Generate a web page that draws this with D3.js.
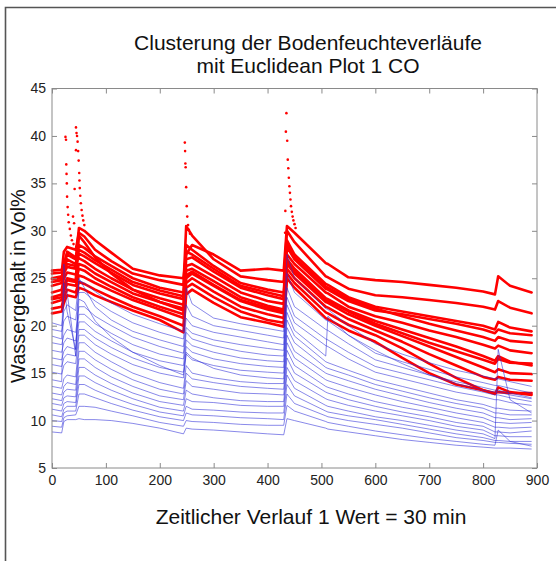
<!DOCTYPE html>
<html><head><meta charset="utf-8">
<script src="https://cdn.jsdelivr.net/npm/d3@7"></script>
<style>
body{margin:0;background:#fff}
svg{display:block}
text{font-family:"Liberation Sans",Arial,Helvetica,sans-serif}
</style>
</head><body>
<svg id="chart" width="556" height="561"></svg>
<script>
// ---- data ----
const titleLines = ["Clusterung der Bodenfeuchteverläufe", "mit Euclidean Plot 1 CO"];
const xLabel = "Zeitlicher Verlauf 1 Wert = 30 min";
const yLabel = "Wassergehalt in Vol%";
const xTicks = [0,100,200,300,400,500,600,700,800,900];
const yTicks = [5,10,15,20,25,30,35,40,45];

// sample times (1 value = 30 min)
const times = [0,18,22,28,44,50,60,80,110,150,200,244,249,260,300,350,400,430,436,450,508,512,550,600,650,700,750,800,822,828,850,890];

// red cluster (wet profiles)
const redValues = [
 [25.8,25.9,26.5,27.5,27.0,30.3,30.0,29.0,27.7,26.0,25.3,25.0,27.5,28.5,27.5,25.8,26.0,25.8,30.5,29.8,26.6,26.5,25.1,24.8,24.6,24.3,24.0,23.6,23.3,25.2,24.2,23.5],
 [25.5,25.6,27.8,28.3,28.0,29.8,29.4,28.0,26.8,25.5,24.8,24.3,30.5,29.5,27.0,25.2,24.8,24.6,30.0,28.8,25.2,25.1,23.9,23.2,23.0,22.7,22.4,22.0,21.7,22.6,21.9,21.3],
 [25.0,25.2,26.0,27.0,26.5,28.5,28.2,27.3,26.3,25.0,24.0,23.5,28.5,28.0,26.3,24.5,23.8,23.5,29.0,27.5,24.4,24.3,23.0,22.0,21.5,21.0,20.5,20.0,19.6,20.4,19.8,19.4],
 [24.6,24.8,25.5,26.2,26.0,27.6,27.3,26.6,25.6,24.3,23.4,22.8,27.0,27.2,25.7,24.0,23.2,22.8,28.3,27.0,23.9,23.8,22.6,21.6,21.2,20.7,20.2,19.6,19.2,19.6,19.2,19.0],
 [24.2,24.5,26.3,27.8,27.2,27.1,26.8,26.0,25.0,23.8,22.9,22.2,26.3,26.5,25.2,23.5,22.6,22.3,27.5,26.5,23.5,23.4,22.0,21.0,20.3,19.5,18.8,18.0,17.6,17.9,17.4,17.1],
 [23.5,23.8,25.0,25.6,25.4,26.5,26.3,25.5,24.6,23.4,22.5,21.8,25.8,26.0,24.7,23.0,22.1,21.7,27.0,26.0,22.9,22.8,21.6,20.5,19.6,18.7,17.8,16.8,16.3,16.8,16.2,15.8],
 [23.0,23.3,24.2,25.0,24.8,29.5,28.8,27.2,25.5,23.8,22.5,21.6,25.0,25.5,24.2,22.6,21.7,21.3,26.5,25.5,22.5,22.4,21.2,20.0,18.9,17.8,16.7,15.6,15.1,15.4,15.0,14.9],
 [22.4,22.7,23.6,24.4,24.2,25.3,25.1,24.5,23.7,22.7,21.7,20.8,24.5,25.0,23.6,22.0,21.2,20.8,26.0,25.0,22.0,21.9,20.7,19.5,18.3,17.0,15.8,14.6,14.3,14.6,14.3,14.2],
 [21.8,22.0,23.0,23.8,23.5,24.6,24.4,23.8,23.0,22.0,21.0,20.0,24.0,24.4,23.0,21.5,20.6,20.3,25.5,24.5,21.4,21.3,20.1,19.0,17.6,16.0,14.5,13.2,12.9,13.0,12.9,12.9],
 [21.3,21.5,22.4,23.2,23.0,24.0,23.8,23.2,22.5,21.6,20.6,19.3,23.3,23.8,22.4,20.9,20.3,19.9,25.0,24.0,20.8,20.7,19.5,18.3,16.6,15.0,13.8,13.2,12.8,13.5,13.0,12.7],
 [24.9,25.0,25.8,26.5,26.3,28.0,27.7,26.9,25.9,24.6,23.7,23.1,27.8,27.5,26.0,24.2,23.5,23.1,28.6,27.2,24.1,24.0,22.8,21.8,21.0,20.2,19.5,18.8,18.4,18.8,18.4,18.2],
 [22.8,23.0,24.0,24.8,24.6,26.0,25.8,25.0,24.1,23.0,22.0,21.2,25.3,25.7,24.3,22.7,21.9,21.5,26.8,25.7,22.7,22.6,21.5,20.2,19.2,18.2,17.3,16.4,16.0,16.5,16.1,16.0]
];

// red single samples during the fast rain peaks: [time, value]
const redPeakSamples = [
 [25,39.9],[26,39.6],[26.5,37.0],[27,36.0],[27.5,35.0],[28,33.6],[29,32.5],[30,31.7],[31,30.9],[33,30.2],[35,29.5],[37,29.0],[40,28.6],
 [44.5,40.9],[45.5,40.3],[46.5,40.0],[47.5,39.4],[44.5,38.5],[48.5,38.4],[49.5,37.4],[50.5,36.1],[51,35.3],[51.5,34.5],[42,34.4],[52.5,33.7],[53.5,32.9],[55,32.2],[56.5,31.6],[58,31.1],[60,30.6],[39,31.5],[41,30.8],
 [246.5,39.3],[247,38.4],[247.5,37.1],[248,36.7],[249,34.6],[250,32.6],[251,31.5],[252.5,30.6],[254,30.1],[256,29.7],
 [435,42.4],[434,40.45],[436.5,39.5],[437.5,37.5],[438.5,36.6],[439.5,35.6],[440.5,34.7],[441.5,34.0],[442.5,33.3],[443.5,32.6],[445,32.0],[446.5,31.5],[448,31.1],[450,30.7],[452,30.3],[433,32.1],[432.5,29.8]
];

// blue cluster (drier profiles)
const blueValues = [
 [20.3,20.0,21.5,22.2,21.6,24.8,24.5,23.6,22.4,21.2,20.2,19.4,24.0,22.3,20.8,20.2,19.7,19.4,27.5,25.0,21.8,21.7,20.0,18.1,17.0,16.1,15.3,14.7,14.4,14.4,14.1,13.6],
 [19.6,19.4,20.5,21.0,20.6,23.5,23.5,22.6,21.5,20.3,19.3,18.6,22.2,21.0,20.0,19.5,19.0,18.7,25.5,23.5,20.6,20.5,19.0,17.1,16.2,15.4,14.6,14.0,13.7,13.7,13.4,12.9],
 [18.9,18.6,26.5,23.5,16.8,25.0,24.0,22.0,20.6,19.4,18.5,17.8,20.8,20.0,19.3,18.8,18.3,18.0,24.0,22.0,19.6,19.5,18.1,16.4,15.6,14.8,14.1,13.5,13.2,13.2,12.9,12.4],
 [18.2,18.0,19.0,19.6,19.3,22.0,22.0,21.0,20.0,18.8,17.8,17.1,19.8,19.2,18.5,18.0,17.6,17.4,23.0,21.0,18.6,18.5,17.2,15.7,15.0,14.3,13.6,13.0,12.7,12.7,12.4,12.0],
 [17.4,17.2,18.2,18.7,18.4,21.2,21.2,20.2,19.2,18.0,17.0,16.5,19.3,18.6,17.9,17.3,16.9,16.8,22.2,20.3,17.9,17.8,16.5,15.1,14.4,13.7,13.0,12.5,12.2,12.2,11.9,11.6],
 [16.6,16.4,17.3,17.8,17.5,20.4,20.4,19.4,18.4,17.2,16.3,15.8,18.5,17.9,17.2,16.6,16.3,16.2,21.4,19.5,16.8,21.0,19.0,17.4,16.0,14.8,13.9,13.2,13.0,13.0,12.7,12.3],
 [15.9,15.7,16.6,17.0,16.8,19.6,19.6,18.7,17.7,16.6,15.6,15.1,17.8,17.2,16.5,16.0,15.7,15.6,20.6,18.9,16.2,16.1,15.3,14.3,13.6,12.9,12.2,11.7,11.3,11.3,11.1,11.0],
 [15.1,14.9,15.8,16.2,16.0,19.0,19.0,18.0,17.0,15.9,15.0,14.5,17.0,16.4,15.8,15.3,15.1,15.0,19.8,18.2,15.6,15.5,14.8,13.8,13.1,12.4,11.8,11.3,10.8,10.8,10.6,10.6],
 [14.3,14.1,24.5,21.5,17.5,22.8,22.5,20.5,18.8,17.2,15.8,14.8,17.2,16.6,15.5,14.8,14.5,14.4,19.0,17.3,15.0,14.9,14.2,13.3,12.6,11.9,11.3,10.8,10.3,10.3,10.1,10.2],
 [13.6,13.4,14.4,14.8,14.6,18.2,18.2,17.2,16.2,15.0,14.0,13.4,15.8,15.0,14.5,14.1,13.9,13.9,18.2,16.6,14.3,14.2,13.5,12.7,12.0,11.4,10.8,10.3,9.8,9.8,9.7,9.8],
 [12.9,12.7,13.6,14.0,13.8,17.3,17.3,16.4,15.4,14.3,13.3,12.8,15.0,14.4,14.0,13.6,13.4,13.3,17.4,15.8,13.6,13.5,12.8,12.0,11.4,10.9,10.3,9.8,9.3,9.3,9.2,9.3],
 [12.3,12.1,13.0,13.3,13.2,16.5,16.5,15.6,14.6,13.6,12.6,12.2,14.2,13.6,13.3,12.9,12.8,12.7,16.6,15.0,13.0,12.9,12.2,11.5,10.9,10.4,9.8,9.4,8.8,8.8,8.7,8.9],
 [11.8,11.6,12.4,12.6,12.5,15.6,15.6,14.8,13.9,12.9,12.0,11.6,13.2,12.8,12.4,12.1,12.0,12.0,15.6,14.2,12.3,12.2,11.6,11.0,10.5,10.0,9.4,9.0,8.4,8.4,8.3,8.3],
 [11.2,11.0,11.8,12.0,11.9,14.7,14.7,14.0,13.2,12.3,11.4,11.0,12.3,12.0,11.9,11.6,11.5,11.5,14.8,13.4,11.6,11.5,11.0,10.4,10.0,9.5,9.0,8.6,8.1,17.5,12.2,10.8],
 [10.6,10.4,11.2,11.5,11.5,13.8,13.8,13.2,12.5,11.7,10.9,10.5,11.5,11.2,11.1,10.9,10.8,10.8,13.8,12.6,11.0,10.9,10.5,10.1,9.6,9.1,8.6,8.2,7.9,7.9,7.8,7.8],
 [10.0,9.9,10.8,11.0,11.0,12.8,12.8,12.4,11.8,11.1,10.4,10.0,10.8,10.6,10.5,10.3,10.2,10.1,12.8,11.8,10.5,10.4,10.0,9.6,9.2,8.7,8.2,7.9,7.7,7.7,7.6,7.5],
 [9.4,9.3,10.3,10.5,10.6,11.5,11.5,11.4,11.0,10.5,9.8,9.4,10.0,9.9,9.8,9.6,9.5,9.5,11.6,11.0,9.9,9.8,9.4,8.9,8.5,8.1,7.8,7.5,7.4,9.0,7.8,7.3],
 [8.8,8.7,9.9,10.1,10.1,10.2,10.1,10.1,10.0,9.7,9.2,8.6,9.2,9.1,9.0,8.8,8.6,8.5,10.2,10.0,9.2,9.1,8.8,8.4,8.0,7.7,7.4,7.2,7.1,7.1,7.1,7.0]
];

// ---- drawing ----
const svg = d3.select("#chart");
const W = 556, H = 561;
const m = {left:52, right:537, top:88.5, bottom:468};

const x = d3.scaleLinear().domain([0,900]).range([m.left, m.right]);
const y = d3.scaleLinear().domain([5,45]).range([m.bottom, m.top]);

// outer frame (top & left border of the figure window)
svg.append("path").attr("d", `M5.5,${H} L5.5,7.5 L${W},7.5`)
  .attr("fill","none").attr("stroke","#555").attr("stroke-width",1.6);

// title
const title = svg.append("text").attr("x",308).attr("y",50)
  .attr("text-anchor","middle").attr("font-size",21).attr("fill","#111");
title.selectAll("tspan").data(titleLines).join("tspan")
  .attr("x",308).attr("dy",(d,i)=> i===0 ? 0 : 23).text(d=>d);

const line = d3.line().x((d,i)=>x(times[i])).y(d=>y(d));

const plot = svg.append("g");
plot.selectAll("path.red").data(redValues).join("path")
  .attr("class","red").attr("d", line)
  .attr("fill","none").attr("stroke","#ff0000").attr("stroke-width",2.6)
  .attr("stroke-linejoin","round").attr("stroke-linecap","round");

plot.selectAll("circle.peak").data(redPeakSamples).join("circle")
  .attr("class","peak").attr("cx",d=>x(d[0])).attr("cy",d=>y(d[1]))
  .attr("r",1.3).attr("fill","#ff0000");

plot.selectAll("path.blue").data(blueValues).join("path")
  .attr("class","blue").attr("d", line)
  .attr("fill","none").attr("stroke","#2a2ad8").attr("stroke-width",0.9)
  .attr("stroke-opacity",0.62).attr("stroke-linejoin","round");

// axes (MATLAB style box with inward ticks)
const axisColor = "#8a8a8a";
function styleAxis(g){
  g.select(".domain").remove();
  g.selectAll(".tick line").attr("stroke",axisColor);
  g.selectAll(".tick text").attr("fill","#222").attr("font-size",14)
   .attr("font-family","Liberation Sans, Arial, sans-serif");
}
svg.append("g").attr("transform",`translate(0,${m.bottom})`)
  .call(d3.axisBottom(x).tickValues(xTicks).tickSizeInner(-5).tickSizeOuter(0).tickPadding(7))
  .call(styleAxis);
svg.append("g").attr("transform",`translate(0,${m.top})`)
  .call(d3.axisTop(x).tickValues(xTicks).tickSizeInner(-5).tickSizeOuter(0).tickFormat(""))
  .call(styleAxis);
svg.append("g").attr("transform",`translate(${m.left},0)`)
  .call(d3.axisLeft(y).tickValues(yTicks).tickSizeInner(-5).tickSizeOuter(0).tickPadding(6))
  .call(styleAxis);
svg.append("g").attr("transform",`translate(${m.right},0)`)
  .call(d3.axisRight(y).tickValues(yTicks).tickSizeInner(-5).tickSizeOuter(0).tickFormat(""))
  .call(styleAxis);

svg.append("rect").attr("x",m.left).attr("y",m.top)
  .attr("width",m.right-m.left).attr("height",m.bottom-m.top)
  .attr("fill","none").attr("stroke",axisColor).attr("stroke-width",1);

// axis labels
svg.append("text").attr("x",311).attr("y",524).attr("text-anchor","middle")
  .attr("font-size",21).attr("fill","#111").text(xLabel);
svg.append("text").attr("transform","translate(25,286) rotate(-90)")
  .attr("text-anchor","middle").attr("font-size",20).attr("fill","#111").text(yLabel);
</script>
</body></html>
